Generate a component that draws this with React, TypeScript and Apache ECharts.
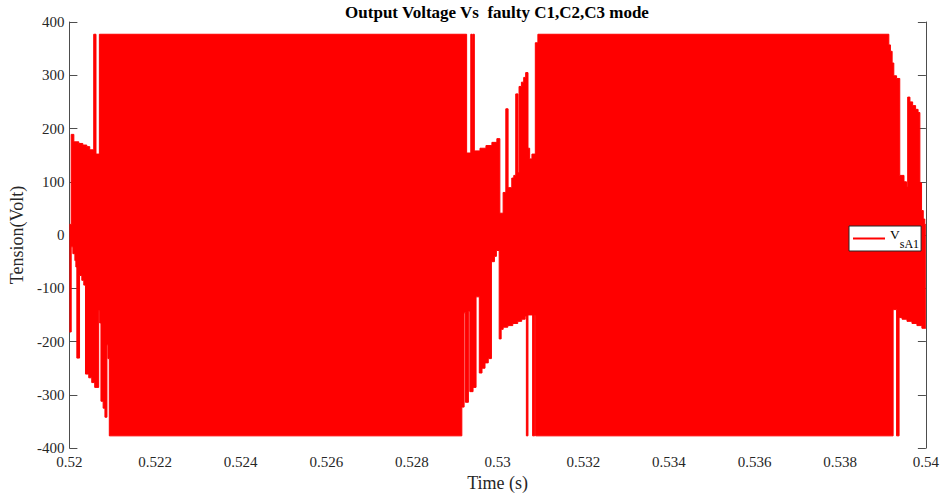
import React, { useEffect, useRef } from 'react';
import * as echarts from 'echarts';

// Upper envelope of the switched output voltage (time in s, voltage in V), step-wise
const upperTime = [
  0.52, 0.520042, 0.520104, 0.52022, 0.520313, 0.520406, 0.520475, 0.520568, 0.520621, 0.5207,
  0.529276, 0.529373, 0.529402, 0.529418, 0.529456, 0.529588, 0.529727, 0.529866, 0.529982,
  0.530052, 0.530128, 0.530191, 0.530244, 0.53033, 0.530377, 0.530423, 0.530476, 0.5305,
  0.530555, 0.530609, 0.530655, 0.530709, 0.530748, 0.530801, 0.53088, 0.53094,
  0.539135, 0.539172, 0.539212, 0.539251, 0.539316, 0.53939, 0.539489, 0.539547, 0.539575,
  0.539628, 0.539691, 0.53976, 0.539818, 0.53986, 0.539899, 0.539939, 0.539975, 0.54,
];
const upperVolt = [
  20, 189, 175, 172, 169, 166, 160, 377, 152, 377,
  154, 377, 154, 377, 158, 163, 168, 174, 181,
  41, 80, 237, 89, 107, 112, 265, 117, 279,
  287, 296, 305, 163, 143, 152, 361, 377,
  357, 345, 323, 299, 294, 112, 100, 90, 259,
  250, 243, 236, 230, 98, 46, 30, 20, 20,
];

// Lower envelope
const lowerTime = [
  0.52, 0.520042, 0.520081, 0.520128, 0.520151, 0.520174, 0.520237, 0.52029, 0.520336,
  0.520376, 0.520452, 0.520522, 0.520591, 0.520684, 0.520707, 0.520737, 0.520788, 0.52083,
  0.520877, 0.5209, 0.520932,
  0.529164, 0.529217, 0.529248, 0.529317, 0.52935, 0.529426, 0.529496, 0.529572, 0.529635,
  0.529705, 0.529781, 0.529855, 0.529925, 0.529971, 0.530036, 0.530082, 0.530129, 0.530238,
  0.530354, 0.53047, 0.530562, 0.530643, 0.530671, 0.530708, 0.530817, 0.530864, 0.530887,
  0.539235, 0.539316, 0.539374, 0.539444, 0.539559, 0.539675, 0.539791, 0.539907, 0.54,
];
const lowerVolt = [
  -182, -22, -35, -48, -60, -231, -76, -85, -94,
  -261, -268, -277, -286, -142, -165, -312, -325, -342,
  -206, -232, -377,
  -323, -146, -314, -143, -294, -286, -116, -259, -250,
  -240, -232, -50, -40, -29, -195, -177, -173, -170,
  -166, -162, -158, -152, -377, -150, -377, -150, -377,
  -140, -377, -155, -158, -162, -166, -170, -175, -176,
];

const xMin = 0.52;
const xMax = 0.54;
const xStep = 0.002;
const yMin = -400;
const yMax = 400;
const yStep = 100;

const titleText = 'Output Voltage Vs  faulty C1,C2,C3 mode';
const xName = 'Time (s)';
const yName = 'Tension(Volt)';
const seriesName = 'VsA1';

const SERIF = "'Liberation Serif', 'Times New Roman', serif";
const AXIS = '#4d4d4d';
const TXT = '#262626';
const RED = '#ff0000';

export default function App() {
  const ref = useRef<HTMLDivElement>(null);
  useEffect(() => {
    const chart = echarts.init(ref.current!, null, { renderer: 'svg', width: 942, height: 497 });
    const axisCommon = {
      axisLine: { show: true, lineStyle: { color: AXIS, width: 1 } },
      axisTick: { show: true, inside: true, length: 8, lineStyle: { color: AXIS } },
      splitLine: { show: false },
    };
    const option: any = {
      animation: false,
      backgroundColor: '#ffffff',
      title: {
        text: titleText,
        left: 497,
        top: 4,
        padding: 0,
        textAlign: 'center',
        textStyle: { fontFamily: SERIF, fontWeight: 'bold', fontSize: 17, color: '#000' },
      },
      grid: { left: 66, right: 14, top: 22, bottom: 43, containLabel: false },
      legend: {
        data: [{ name: seriesName, icon: 'rect' }],
        left: 849,
        top: 226,
        orient: 'vertical',
        selectedMode: false,
        itemWidth: 32,
        itemHeight: 2,
        itemGap: 0,
        itemTextGap: 4,
        padding: [1, 2, 1, 4],
        backgroundColor: '#ffffff',
        borderColor: '#262626',
        borderWidth: 1,
        borderRadius: 0,
        itemStyle: { color: RED, borderWidth: 0 },
        formatter: () => '{v|V}{s|sA1}',
        textStyle: {
          fontFamily: SERIF,
          color: '#000',
          rich: {
            v: { fontFamily: SERIF, fontSize: 13.5, lineHeight: 14, padding: [0, 0, 9, 0], color: '#000' },
            s: { fontFamily: SERIF, fontSize: 12, lineHeight: 12, padding: [10, 0, 0, 0], color: '#000' },
          },
        },
      },
      xAxis: [
        {
          type: 'value',
          position: 'bottom',
          min: xMin,
          max: xMax,
          interval: xStep,
          ...axisCommon,
          axisLabel: {
            show: true,
            margin: 6,
            fontFamily: SERIF,
            fontSize: 15,
            color: TXT,
            formatter: (v: number) => String(+v.toFixed(3)),
          },
          name: xName,
          nameLocation: 'middle',
          nameGap: 22,
          nameTextStyle: { fontFamily: SERIF, fontSize: 18, color: TXT },
        },
        {
          type: 'value',
          position: 'top',
          min: xMin,
          max: xMax,
          interval: xStep,
          ...axisCommon,
          axisLabel: { show: false },
        },
      ],
      yAxis: [
        {
          type: 'value',
          position: 'left',
          min: yMin,
          max: yMax,
          interval: yStep,
          ...axisCommon,
          axisLabel: { show: true, margin: 5, fontFamily: SERIF, fontSize: 15, color: TXT },
          name: yName,
          nameLocation: 'middle',
          nameGap: 36,
          nameTextStyle: { fontFamily: SERIF, fontSize: 18, color: TXT },
        },
        {
          type: 'value',
          position: 'right',
          min: yMin,
          max: yMax,
          interval: yStep,
          ...axisCommon,
          axisLabel: { show: false },
        },
      ],
      series: [
        {
          name: seriesName,
          type: 'line',
          xAxisIndex: 0,
          yAxisIndex: 0,
          step: 'end',
          symbol: 'none',
          showSymbol: false,
          silent: true,
          clip: true,
          itemStyle: { color: RED },
          lineStyle: { color: RED, width: 1 },
          areaStyle: { color: RED, opacity: 1 },
          data: upperTime.map((t, i) => [t, upperVolt[i]]),
        },
        {
          name: seriesName + ' lower',
          type: 'line',
          xAxisIndex: 0,
          yAxisIndex: 0,
          step: 'end',
          symbol: 'none',
          showSymbol: false,
          silent: true,
          clip: true,
          itemStyle: { color: RED },
          lineStyle: { color: RED, width: 1 },
          areaStyle: { color: RED, opacity: 1 },
          data: lowerTime.map((t, i) => [t, lowerVolt[i]]),
        },
      ],
    };
    chart.setOption(option);
    return () => chart.dispose();
  }, []);
  return (
    <div
      ref={ref}
      style={{ position: 'fixed', left: 0, top: 0, width: 942, height: 497, background: '#fff' }}
    />
  );
}
